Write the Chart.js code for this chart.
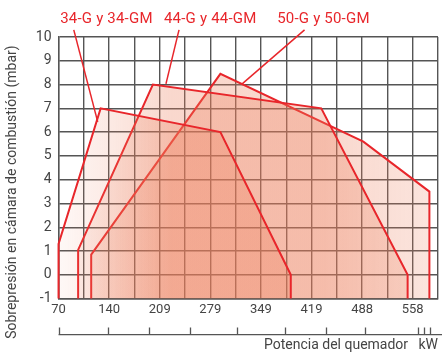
<!DOCTYPE html>
<html>
<head>
  <title>Campo de trabajo quemadores</title>
  <script src="https://cdn.jsdelivr.net/npm/chart.js"></script>
  <style>
    body { margin: 0; background: #fff; }
    #wrap { width: 442px; height: 354px; }
  </style>
</head>
<body>
  <div id="wrap"><canvas id="campo"></canvas></div>

  <script>
    // curvas de trabajo (kW, mbar)
    const modelos = ["34-G y 34-GM", "44-G y 44-GM", "50-G y 50-GM"];
    const curva34 = [[70, -1], [70, 1.3], [128, 7], [293, 6], [390, 0], [390, -1]];
    const curva44 = [[97, -1], [97, 1.05], [200, 8], [432, 7], [551, 0], [551, -1]];
    const curva50 = [[115, -1], [115, 0.85], [293, 8.45], [490, 5.6], [581, 3.5], [581, -1]];

    // lineas de las etiquetas
    const guia34 = [[91, 10.3], [124, 6.43]];
    const guia44 = [[236, 10.3], [218, 8.03]];
    const guia50 = [[409, 10.3], [323, 8.03]];
    const etiquetaX = [136, 279, 435];
    const etiquetaY = 10.76;

    const xTickLabels = [70, 140, 209, 279, 349, 419, 488, 558];
    const xMin = 70, xPaso = 34.857, xMax = 70 + 15 * 34.857;
    const yTicks = [-1, 0, 1, 2, 3, 4, 5, 6, 7, 8, 9, 10];
    const escalaInferior = [70, 138, 194.5, 251, 316, 382.5, 439, 492, 565, 573.5, 582];

    const rojo = "#e8262b";
    const gris = "#555";

    const pts = arr => arr.map(p => ({ x: p[0], y: p[1] }));

    function relleno(ctx) {
      const area = ctx.chart.chartArea;
      if (!area) return "rgba(236,125,90,0.3)";
      const g = ctx.chart.ctx.createLinearGradient(area.left, 0, area.right, 0);
      g.addColorStop(0, "rgba(236,125,90,0.05)");
      g.addColorStop(0.3, "rgba(236,125,90,0.3)");
      g.addColorStop(0.7, "rgba(236,125,90,0.3)");
      g.addColorStop(1, "rgba(236,125,90,0.2)");
      return g;
    }

    const poligono = data => ({
      data: pts(data),
      borderColor: rojo,
      borderWidth: 2,
      backgroundColor: relleno,
      fill: "shape",
      pointRadius: 0,
      tension: 0,
      clip: 4
    });

    const guia = data => ({
      data: pts(data),
      borderColor: rojo,
      borderWidth: 1.5,
      fill: false,
      pointRadius: 0,
      clip: false
    });

    // textos de los modelos y escala inferior sin numeros
    const extras = {
      id: "extras",
      afterDatasetsDraw(chart) {
        const { ctx, scales: { x, y } } = chart;
        ctx.save();
        ctx.fillStyle = rojo;
        ctx.font = "15px Roboto";
        ctx.letterSpacing = "0.2px";
        ctx.textAlign = "center";
        ctx.textBaseline = "middle";
        modelos.forEach((m, i) => {
          ctx.fillText(m, x.getPixelForValue(etiquetaX[i]), y.getPixelForValue(etiquetaY));
        });

        const base = y.bottom + 36;
        ctx.strokeStyle = gris;
        ctx.lineWidth = 1.3;
        ctx.beginPath();
        ctx.moveTo(x.getPixelForValue(escalaInferior[0]), base);
        ctx.lineTo(chart.width, base);
        escalaInferior.forEach(v => {
          const px = Math.round(x.getPixelForValue(v)) + 0.5;
          ctx.moveTo(px, base);
          ctx.lineTo(px, base - 7);
        });
        ctx.stroke();
        ctx.restore();
      }
    };

    new Chart(document.getElementById("campo"), {
      type: "line",
      data: {
        datasets: [
          poligono(curva34),
          poligono(curva44),
          poligono(curva50),
          guia(guia34),
          guia(guia44),
          guia(guia50)
        ]
      },
      options: {
        responsive: true,
        maintainAspectRatio: false,
        animation: false,
        layout: { padding: { top: 37, right: 4, left: 4, bottom: 0 } },
        plugins: {
          legend: { display: false },
          tooltip: { enabled: false }
        },
        scales: {
          x: {
            type: "linear",
            min: xMin,
            max: xMax,
            ticks: {
              stepSize: xPaso,
              autoSkip: false,
              maxRotation: 0,
              color: "#444",
              font: { family: "Roboto", size: 13 },
              padding: 3,
              callback: (v, i) => (i % 2 === 0 ? xTickLabels[i / 2] : "")
            },
            grid: { color: gris, lineWidth: 1.4, drawTicks: false },
            border: { color: gris, width: 1.4 },
            title: {
              display: true,
              text: "Potencia del quemador   kW",
              align: "end",
              color: "#444",
              font: { family: "Roboto", size: 14 },
              padding: { top: 17, bottom: 0 }
            }
          },
          y: {
            min: -1,
            max: 10,
            afterBuildTicks: s => { s.ticks = yTicks.map(v => ({ value: v })); },
            ticks: {
              color: "#444",
              font: { family: "Roboto", size: 14 },
              padding: 7
            },
            grid: { color: gris, lineWidth: 1.4, drawTicks: false },
            border: { color: gris, width: 1.4 },
            title: {
              display: true,
              text: "Sobrepresión en cámara de combustión (mbar)              ",
              color: "#444",
              font: { family: "Roboto", size: 14 },
              padding: { top: 0, bottom: 8 }
            }
          }
        }
      },
      plugins: [extras]
    });
  </script>
</body>
</html>
